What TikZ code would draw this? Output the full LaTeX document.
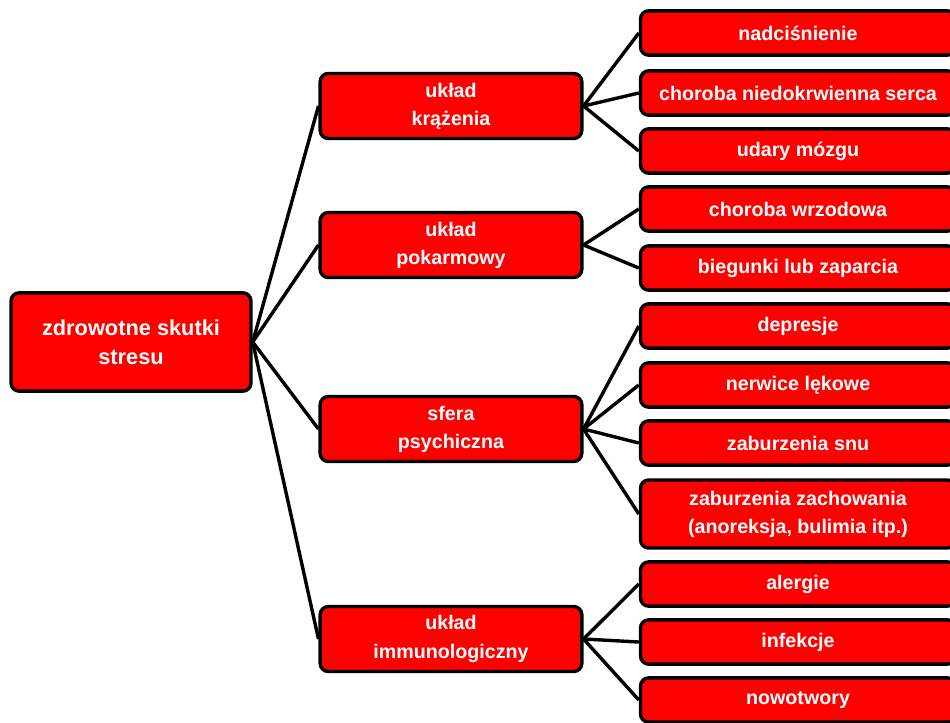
\documentclass[tikz,border=0pt]{standalone}
\usepackage{fontspec}
\setmainfont{Liberation Sans}
\usetikzlibrary{positioning}
\tikzset{
    block/.style={rectangle, draw=black, line width=2.9pt, rounded corners=7pt, fill=red, text=white, align=center, inner sep=0pt},
    rootblock/.style={block, minimum width=7.2cm, minimum height=2.95cm, font=\bfseries\fontsize{18.6}{25}\selectfont},
    areablock/.style={block, minimum width=7.85cm, minimum height=1.95cm, font=\bfseries\fontsize{16.8}{24}\selectfont},
    effectblock/.style={block, minimum width=9.45cm, minimum height=1.33cm, font=\bfseries\fontsize{16.8}{24}\selectfont},
    link/.style={line width=2.9pt, black}
}

\begin{document}
\begin{tikzpicture}[x=0.03cm, y=-0.03cm]
            \useasboundingbox (0,0) rectangle (950,722);

            \node[rootblock] (stres) at (131,342) {zdrowotne skutki\\stresu};

            \node[areablock] (krazenie) at (451,106) {układ\\krążenia};
            \node[areablock] (pokarmowy) at (451,245) {układ\\pokarmowy};
            \node[areablock] (psychika) at (451,429) {sfera\\psychiczna};
            \node[areablock] (odpornosc) at (451,639) {układ\\immunologiczny};

            \node[effectblock] (nadcisnienie) at (798,33) {nadciśnienie};
            \node[effectblock] (serce) at (798,93) {choroba niedokrwienna serca};
            \node[effectblock] (udary) at (798,151) {udary mózgu};
            \node[effectblock] (wrzody) at (798,209) {choroba wrzodowa};
            \node[effectblock] (biegunki) at (798,268) {biegunki lub zaparcia};
            \node[effectblock] (depresje) at (798,326) {depresje};
            \node[effectblock] (nerwice) at (798,385) {nerwice lękowe};
            \node[effectblock] (sen) at (798,443) {zaburzenia snu};
            \node[effectblock, minimum height=2.04cm] (zachowanie) at (798,514) {zaburzenia zachowania\\(anoreksja, bulimia itp.)};
            \node[effectblock] (alergie) at (798,584) {alergie};
            \node[effectblock] (infekcje) at (798,642) {infekcje};
            \node[effectblock] (nowotwory) at (798,700) {nowotwory};

            \foreach \area in {krazenie, pokarmowy, psychika, odpornosc}
                \draw[link] (stres.east) -- (\area.west);
            \foreach \effect in {nadcisnienie, serce, udary}
                \draw[link] (krazenie.east) -- (\effect.west);
            \foreach \effect in {wrzody, biegunki}
                \draw[link] (pokarmowy.east) -- (\effect.west);
            \foreach \effect in {depresje, nerwice, sen, zachowanie}
                \draw[link] (psychika.east) -- (\effect.west);
            \foreach \effect in {alergie, infekcje, nowotwory}
                \draw[link] (odpornosc.east) -- (\effect.west);
        \end{tikzpicture}
\end{document}
